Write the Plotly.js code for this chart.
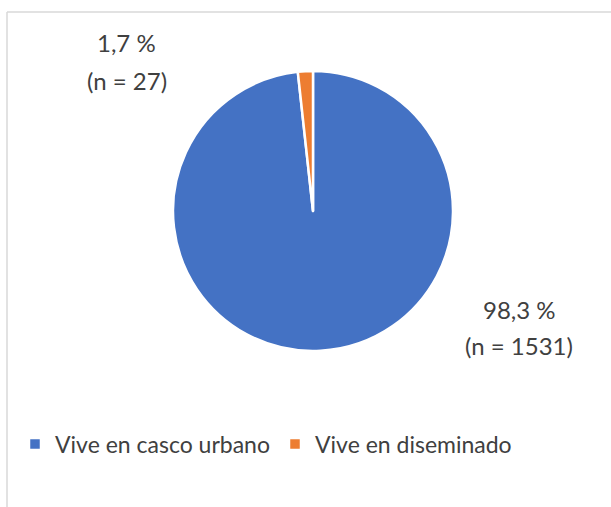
<!DOCTYPE html>
<html>
<head>
<meta charset="utf-8">
<script src="https://cdn.plot.ly/plotly-3.0.1.min.js"></script>
<style>
html,body{margin:0;padding:0;background:#fff;}
#chart{width:611px;height:507px;}
</style>
</head>
<body>
<div id="chart"></div>
<script>
const categories = ["Vive en casco urbano", "Vive en diseminado"];
const counts = [1531, 27];
const percentLabels = ["98,3 %", "1,7 %"];
const colors = ["#4472C4", "#ED7D31"];

const W = 611, H = 507;
const px = x => x / W;
const py = y => 1 - y / H;

const trace = {
  type: "pie",
  labels: categories,
  values: counts,
  sort: false,
  direction: "clockwise",
  rotation: 0,
  textinfo: "none",
  hoverinfo: "label+value+percent",
  marker: {colors: colors, line: {color: "#ffffff", width: 2.5}},
  domain: {x: [px(173), px(453)], y: [py(351), py(71)]}
};

const labelFont = {family: "Lato, 'Open Sans', sans-serif", size: 24, color: "#404040"};
// [x, y of first line, y of second line]
const labelPos = [[519, 309, 345], [127, 43, 80]];
const annotations = [];
categories.forEach((c, i) => {
  annotations.push({
    xref: "paper", yref: "paper",
    x: px(labelPos[i][0]), y: py(labelPos[i][1]),
    xanchor: "center", yanchor: "middle",
    text: percentLabels[i], showarrow: false, font: labelFont
  });
  annotations.push({
    xref: "paper", yref: "paper",
    x: px(labelPos[i][0]), y: py(labelPos[i][2]),
    xanchor: "center", yanchor: "middle",
    text: "(n = " + counts[i] + ")", showarrow: false, font: labelFont
  });
});

const layout = {
  width: W, height: H,
  margin: {l: 0, r: 0, t: 0, b: 0},
  paper_bgcolor: "#ffffff",
  showlegend: true,
  legend: {
    orientation: "h",
    x: px(37 - 22), xanchor: "left",
    y: py(444), yanchor: "middle",
    font: {family: "Lato, 'Open Sans', sans-serif", size: 23, color: "#404040"},
    itemwidth: 30
  },
  annotations: annotations,
  shapes: [
    {type: "line", xref: "paper", yref: "paper", x0: px(7), y0: 0, x1: px(7), y1: py(12), line: {color: "#d9d9d9", width: 1.5}},
    {type: "line", xref: "paper", yref: "paper", x0: px(7), y0: py(12), x1: 1, y1: py(12), line: {color: "#d9d9d9", width: 1.5}}
  ]
};

Plotly.newPlot("chart", [trace], layout, {displayModeBar: false, staticPlot: true});
</script>
</body>
</html>
